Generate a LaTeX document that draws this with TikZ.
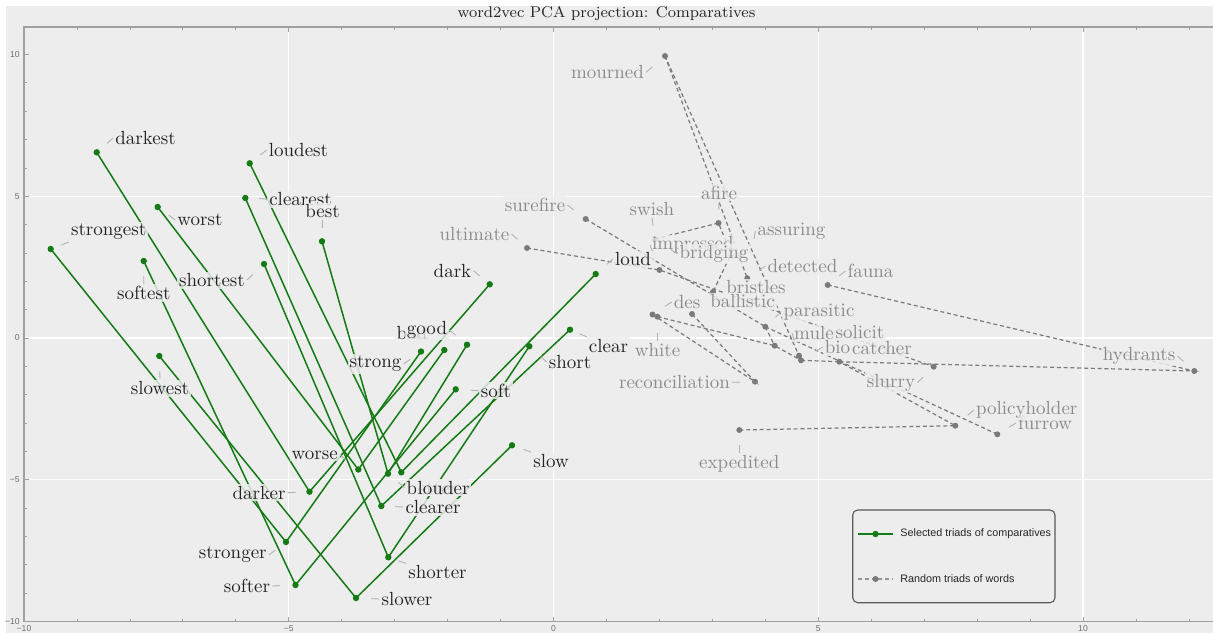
\documentclass[tikz,border=0pt]{standalone}
\usepackage{fontspec}
\newfontfamily\sansf{Liberation Sans}
\usetikzlibrary{calc}
\definecolor{panel}{RGB}{237,237,237}
\definecolor{grn}{RGB}{20,122,20}
\definecolor{gln}{RGB}{122,122,122}
\definecolor{blk}{RGB}{35,35,35}
\definecolor{gtx}{RGB}{138,138,138}
\definecolor{ldr}{RGB}{178,178,178}
\definecolor{axc}{RGB}{160,160,160}
\definecolor{tkl}{RGB}{110,110,110}
\newcommand\leadr[3]{\draw[leader] (#1.#2) -- ($(#1.#2)!4pt!(#3)$);}
\begin{document}
\begin{tikzpicture}[x=0.5pt,y=-0.5pt,
  gdot/.style={circle,fill=grn,inner sep=0pt,minimum size=3.2pt},
  rdot/.style={circle,fill=gln,inner sep=0pt,minimum size=3pt},
  gline/.style={draw=grn,line width=0.75pt},
  rline/.style={draw=gln,line width=0.6pt,dash pattern=on 2pt off 1.4pt},
  blab/.style={text=blk,fill=panel,fill opacity=0.82,text opacity=1,inner sep=0.9pt,font=\fontsize{9.5}{10}\selectfont},
  glab/.style={blab,text=gtx},
  leader/.style={draw=ldr,line width=0.45pt},
  ticklab/.style={font=\sansf\fontsize{4.3}{5}\selectfont,text=tkl,inner sep=1pt},
  legtxt/.style={font=\sansf\fontsize{5.4}{6}\selectfont,text=black!85,inner sep=0pt,anchor=west},
  ttl/.style={font=\fontsize{7.8}{9}\selectfont,text=black!85}
]
\useasboundingbox (0,0) rectangle (1213,633);
\fill[white] (0,0) rectangle (1213,633);
\fill[panel] (6,6) rectangle (1213,633);
% grid
\foreach \k in {-5,0,5,10} \draw[white,line width=0.6pt] ({553.5+\k*52.95},27) -- ({553.5+\k*52.95},621.5);
\foreach \k in {-5,0,5} \draw[white,line width=0.6pt] (24,{338-\k*28.35}) -- (1213,{338-\k*28.35});
% frame and ticks
\draw[axc,line width=0.6pt] (1213,27) -- (24,27) -- (24,621.5) -- (1213,621.5);
\foreach \k in {-10,...,12} {
  \draw[axc,line width=0.4pt] ({553.5+\k*52.95},621.5) -- ++(0,-3);
  \draw[axc,line width=0.4pt] ({553.5+\k*52.95},27) -- ++(0,3);
}
\foreach \k in {-10,-5,0,5,10} {
  \draw[axc,line width=0.5pt] ({553.5+\k*52.95},621.5) -- ++(0,-5);
  \draw[axc,line width=0.5pt] ({553.5+\k*52.95},27) -- ++(0,5);
}
\foreach \k in {-10,...,10} \draw[axc,line width=0.4pt] (24,{338-\k*28.35}) -- ++(3,0);
\foreach \k in {-10,-5,0,5,10} \draw[axc,line width=0.5pt] (24,{338-\k*28.35}) -- ++(5,0);
% tick labels
\node[ticklab,anchor=east] (y10) at (22,54.5) {10};
\node[ticklab,anchor=east] (y5) at (22,196.3) {5};
\node[ticklab,anchor=east] (y0) at (22,338) {0};
\node[ticklab,anchor=east] (ym5) at (22,479.8) {−5};
\node[ticklab,anchor=east] (ym10) at (22,621.5) {−10};
\node[ticklab,anchor=north] (xm10) at (24,623.5) {−10};
\node[ticklab,anchor=north] (xm5) at (288.8,623.5) {−5};
\node[ticklab,anchor=north] (x0) at (553.5,623.5) {0};
\node[ticklab,anchor=north] (x5) at (818.3,623.5) {5};
\node[ticklab,anchor=north] (x10) at (1083,623.5) {10};
% title
\node[ttl] (title) at (606.5,14) {word2vec PCA projection: Comparatives};

% ---------- random triads (grey) ----------
\coordinate (P1) at (665,56);
\coordinate (P2) at (585.7,219);
\coordinate (P3) at (527,248);
\coordinate (P4) at (718.5,223);
\coordinate (P5) at (659.5,270);
\coordinate (P6) at (652.5,314.5);
\coordinate (P7) at (657.5,316.7);
\coordinate (P8) at (692,314);
\coordinate (P9) at (765.3,326.7);
\coordinate (P10) at (774.7,345.7);
\coordinate (P11) at (799,355.7);
\coordinate (P12) at (801,360.3);
\coordinate (P13) at (755,381.7);
\coordinate (P14) at (839.3,361.7);
\coordinate (P15) at (827.7,285);
\coordinate (P16) at (739.3,430);
\coordinate (P17) at (933.7,366.7);
\coordinate (P18) at (1194.3,371);
\coordinate (P19) at (955.3,425.7);
\coordinate (P20) at (997.3,434.3);
\coordinate (P21) at (747.3,278.3);
\coordinate (H1) at (713,292);
\coordinate (H2) at (655,239);
\coordinate (H3) at (731,254);
\draw[rline] (P1) -- (P11);
\draw[rline] (P1) -- (P21);
\draw[rline] (H2) -- (P4) -- (H3) -- (H1);
\draw[rline] (P2) -- (P9);
\draw[rline] (P3) -- (P5) -- (P17);
\draw[rline] (P9) -- (P10);
\draw[rline] (P7) -- (P10) -- (P12);
\draw[rline] (P6) -- (P13) -- (P8);
\draw[rline] (P16) -- (P19) -- (P14);
\draw[rline] (P14) -- (P18) -- (P15);
\draw[rline] (P9) -- (P20);
\draw[rline] (P12) -- (P14);
\foreach \p in {P1,P2,P3,P4,P5,P6,P7,P8,P9,P10,P11,P12,P13,P14,P15,P16,P17,P18,P19,P20,P21,H1,H2,H3}
  \node[rdot] at (\p) {};

% ---------- selected triads (green) ----------
\coordinate (g-darkest) at (96.7,152.3);   \coordinate (g-darker) at (309.5,491.7);  \coordinate (g-dark) at (489.7,284.3);
\coordinate (g-loudest) at (249.7,163.3);  \coordinate (g-louder) at (401.3,472.3);  \coordinate (g-loud) at (595.7,274);
\coordinate (g-clearest) at (245.3,198);   \coordinate (g-clearer) at (381.3,506);   \coordinate (g-clear) at (570,329.7);
\coordinate (g-worst) at (157.7,207);      \coordinate (g-worse) at (358.3,469.5);   \coordinate (g-bad) at (444.3,350);
\coordinate (g-best) at (322,241.3);       \coordinate (g-better) at (388,473.7);    \coordinate (g-good) at (467,344.7);
\coordinate (g-strongest) at (50.7,249);   \coordinate (g-stronger) at (286,542);    \coordinate (g-strong) at (421,351.5);
\coordinate (g-softest) at (143.7,261);    \coordinate (g-softer) at (295.5,585);    \coordinate (g-soft) at (455.7,389.3);
\coordinate (g-shortest) at (264,264);     \coordinate (g-shorter) at (388.3,557.3); \coordinate (g-short) at (529.3,346.3);
\coordinate (g-slowest) at (159.3,356);    \coordinate (g-slower) at (356,598);      \coordinate (g-slow) at (512,445.3);
\foreach \w in {dark,loud,clear,strong,soft,short,slow}
  \draw[gline] (g-\w est) -- (g-\w er) -- (g-\w);
\draw[gline] (g-worst) -- (g-worse) -- (g-bad);
\draw[gline] (g-best) -- (g-better) -- (g-good);
\foreach \w in {dark,loud,clear,strong,soft,short,slow}
  {\node[gdot] at (g-\w est) {}; \node[gdot] at (g-\w er) {}; \node[gdot] at (g-\w) {};}
\foreach \p in {worst,worse,bad,best,better,good} \node[gdot] at (g-\p) {};

% ---------- grey labels ----------
\node[glab] (L-mourned) at (607.5,72.3) {mourned};        \leadr{L-mourned}{east}{P1}
\node[glab] (L-surefire) at (535,205) {surefire};         \leadr{L-surefire}{east}{P2}
\node[glab] (L-ultimate) at (474.5,234) {ultimate};       \leadr{L-ultimate}{east}{P3}
\node[glab] (L-swish) at (652,209) {swish};               \leadr{L-swish}{south}{H2}
\node[glab] (L-afire) at (719,192.7) {afire};             \leadr{L-afire}{south}{P4}
\node[glab,anchor=west] (L-impressed) at (650,245) {impressed}; \leadr{L-impressed}{west}{P5}
\node[glab] (L-bridging) at (714,254) {bridging};         \leadr{L-bridging}{west}{H2}
\node[glab] (L-assuring) at (791.5,231) {assuring};       \leadr{L-assuring}{west}{P21}
\node[glab] (L-detected) at (802.5,266) {detected};       \leadr{L-detected}{west}{P21}
\node[glab] (L-fauna) at (870.5,271) {fauna};             \leadr{L-fauna}{west}{P15}
\node[glab] (L-bristles) at (756,287.5) {bristles};
\node[glab,anchor=west] (L-des) at (671.7,302) {des};     \leadr{L-des}{west}{P6}
\node[glab] (L-ballistic) at (742.5,301) {ballistic};
\node[glab] (L-parasitic) at (819,311.7) {parasitic};     \leadr{L-parasitic}{west}{P9}
\node[glab] (L-solicit) at (860,332) {solicit};
\node[glab] (L-mule) at (814,333) {mule};                 \leadr{L-mule}{west}{P11}
\node[glab] (L-bio) at (837.5,347) {bio};                 \leadr{L-bio}{west}{P12}
\node[glab] (L-catcher) at (882,348) {catcher};
\node[glab] (L-white) at (657.5,350) {white};             \leadr{L-white}{north}{P7}
\node[glab] (L-reconciliation) at (674.5,382.3) {reconciliation}; \leadr{L-reconciliation}{east}{P13}
\node[glab] (L-slurry) at (891,382.7) {slurry};           \leadr{L-slurry}{east}{P17}
\node[glab] (L-expedited) at (739.3,463.3) {expedited};   \leadr{L-expedited}{north}{P16}
\node[glab] (L-hydrants) at (1139,356) {hydrants};        \leadr{L-hydrants}{east}{P18}
\node[glab] (L-furrow) at (1045,423) {furrow};            \leadr{L-furrow}{west}{P20}
\node[glab] (L-policyholder) at (1026.7,410) {policyholder}; \leadr{L-policyholder}{west}{P19}

% ---------- black labels ----------
\node[blab] (L-darkest) at (145.5,138) {darkest};         \leadr{L-darkest}{west}{g-darkest}
\node[blab] (L-loudest) at (298.5,150) {loudest};         \leadr{L-loudest}{west}{g-loudest}
\node[blab] (L-clearest) at (300.5,199) {clearest};       \leadr{L-clearest}{west}{g-clearest}
\node[blab] (L-best) at (322.5,211) {best};               \leadr{L-best}{south}{g-best}
\node[blab] (L-worst) at (200,220) {worst};               \leadr{L-worst}{west}{g-worst}
\node[blab] (L-strongest) at (108.7,232) {strongest};     \leadr{L-strongest}{south west}{g-strongest}
\node[blab] (L-shortest) at (212,280) {shortest};         \leadr{L-shortest}{east}{g-shortest}
\node[blab] (L-softest) at (143.8,293) {softest};         \leadr{L-softest}{north}{g-softest}
\node[blab] (L-slowest) at (160,388) {slowest};           \leadr{L-slowest}{north}{g-slowest}
\node[blab] (L-worse) at (314.7,455) {worse};             \leadr{L-worse}{east}{g-worse}
\node[blab] (L-darker) at (259,492.7) {darker};           \leadr{L-darker}{east}{g-darker}
\node[blab] (L-stronger) at (232.8,555) {stronger};       \leadr{L-stronger}{east}{g-stronger}
\node[blab] (L-softer) at (247,586) {softer};             \leadr{L-softer}{east}{g-softer}
\node[blab] (L-slower) at (407,599) {slower};             \leadr{L-slower}{west}{g-slower}
\node[blab] (L-shorter) at (437.5,572.3) {shorter};       \leadr{L-shorter}{north west}{g-shorter}
\node[blab] (L-clearer) at (433,507) {clearer};           \leadr{L-clearer}{west}{g-clearer}
\node[blab,anchor=west] (L-better) at (404.5,487.5) {better}; \leadr{L-better}{west}{g-better}
\node[blab,anchor=west] (L-louder) at (415.5,487.5) {louder};
\node[blab,anchor=west] (L-bad) at (394.5,333) {bad};
\node[blab] (L-good) at (427,330) {good};                 \leadr{L-good}{east}{g-good}
\node[blab] (L-strong) at (375.5,364) {strong};           \leadr{L-strong}{east}{g-strong}
\node[blab] (L-dark) at (452.5,270.7) {dark};             \leadr{L-dark}{east}{g-dark}
\node[blab] (L-loud) at (633,259) {loud};                 \leadr{L-loud}{west}{g-loud}
\node[blab] (L-clear) at (608.5,345.7) {clear};           \leadr{L-clear}{north west}{g-clear}
\node[blab] (L-short) at (570,362) {short};               \leadr{L-short}{west}{g-short}
\node[blab] (L-soft) at (496,390.7) {soft};               \leadr{L-soft}{west}{g-soft}
\node[blab] (L-slow) at (551,461) {slow};                 \leadr{L-slow}{north west}{g-slow}

% ---------- legend ----------
\draw[draw=black!65,line width=0.55pt,rounded corners=2.5pt,fill=panel] (852.7,510) rectangle (1055,602.7);
\coordinate (la1) at (858,534); \coordinate (lb1) at (893,534);
\coordinate (la2) at (858,579); \coordinate (lb2) at (893,579);
\draw[gline] (la1) -- (lb1);
\node[gdot] (ld1) at ($(la1)!0.5!(lb1)$) {};
\draw[rline,draw=gln!80] (la2) -- (lb2);
\node[rdot] (ld2) at ($(la2)!0.5!(lb2)$) {};
\node[legtxt] (lt1) at (900,534) {Selected triads of comparatives};
\node[legtxt] (lt2) at (900,579) {Random triads of words};
\end{tikzpicture}
\end{document}
